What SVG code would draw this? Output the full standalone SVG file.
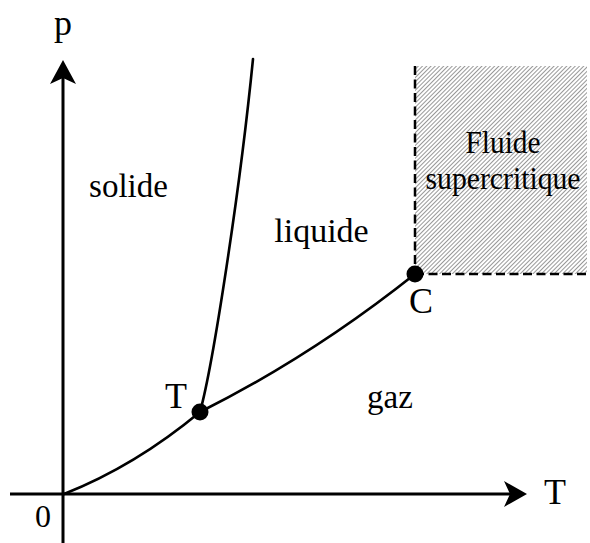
<svg xmlns="http://www.w3.org/2000/svg" width="590" height="543" viewBox="0 0 590 543">
  <style>
    .lbl { font-family: "Liberation Serif", "Times New Roman", serif; fill: #000; text-anchor: middle; }
    .axis { stroke: #000; stroke-width: 3; fill: none; }
    .curve { stroke: #000; stroke-width: 2.6; fill: none; stroke-linecap: round; }
    .dash { stroke: #000; stroke-width: 2.5; fill: none; stroke-dasharray: 9 4.5; }
    .pt { fill: #000; }
  </style>
  <defs>
    <pattern id="hatch" width="3" height="3" patternUnits="userSpaceOnUse" patternTransform="rotate(45)">
      <rect width="3" height="3" fill="#ffffff"/>
      <line x1="0.5" y1="0" x2="0.5" y2="3" stroke="#8c8c8c" stroke-width="0.9"/>
    </pattern>
  </defs>
  <rect width="590" height="543" fill="#ffffff"/>

  <g id="supercritical-region">
    <rect x="415" y="66" width="172" height="208" fill="url(#hatch)"/>
    <path class="dash" d="M415 66 L415 274"/>
    <path class="dash" d="M415 274 L588 274"/>
    <text class="lbl" x="503" y="153" font-size="31" textLength="75" lengthAdjust="spacingAndGlyphs">Fluide</text>
    <text class="lbl" x="503" y="189" font-size="31" textLength="155" lengthAdjust="spacingAndGlyphs">supercritique</text>
  </g>

  <g id="axes">
    <path class="axis" d="M63 78 L63 543"/>
    <path class="axis" d="M10 494 L512 494"/>
    <path class="pt" d="M63 60 L76 84 L63 78 L50 84 Z"/>
    <path class="pt" d="M527 494 L504 507 L510 494 L504 481 Z"/>
    <text class="lbl" x="63" y="35" font-size="36">p</text>
    <text class="lbl" x="555" y="504" font-size="36">T</text>
    <text class="lbl" x="43" y="527" font-size="32">0</text>
  </g>

  <g id="connectors">
    <path class="curve" d="M64 494 Q135 466 200 412"/>
    <path class="curve" d="M200 412 Q312 356 415 274"/>
    <path class="curve" d="M200 412 C213 365 240 190 253 59"/>
  </g>

  <g id="triple-point">
    <circle class="pt" cx="200" cy="412" r="8.5"/>
    <text class="lbl" x="176" y="408" font-size="36">T</text>
  </g>

  <g id="critical-point">
    <circle class="pt" cx="415" cy="274" r="8.5"/>
    <text class="lbl" x="421" y="313" font-size="36">C</text>
  </g>

  <g id="solide">
    <text class="lbl" x="128.5" y="197" font-size="33">solide</text>
  </g>
  <g id="liquide">
    <text class="lbl" x="321.5" y="242" font-size="34">liquide</text>
  </g>
  <g id="gaz">
    <text class="lbl" x="390" y="408" font-size="33">gaz</text>
  </g>
</svg>
